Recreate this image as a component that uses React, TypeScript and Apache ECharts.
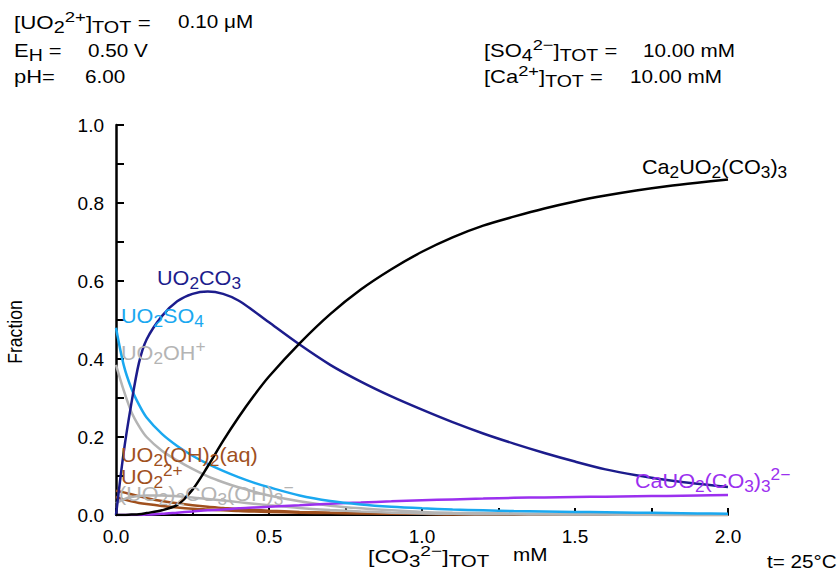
import React, { useEffect, useRef } from "react";
import * as echarts from "echarts";

// [CO3 2-]TOT in mM
const carbonate = [0, 0.025, 0.05, 0.075, 0.1, 0.15, 0.2, 0.25, 0.3, 0.35, 0.4, 0.45, 0.5, 0.6, 0.7, 0.8, 0.9, 1.0, 1.1, 1.2, 1.3, 1.4, 1.5, 1.6, 1.7, 1.8, 1.9, 2.0];

const uo2co3 = [0, 0.16, 0.285, 0.39, 0.45, 0.51, 0.548, 0.567, 0.573, 0.567, 0.55, 0.523, 0.494, 0.437, 0.385, 0.342, 0.304, 0.27, 0.238, 0.209, 0.183, 0.159, 0.137, 0.117, 0.102, 0.09, 0.08, 0.072];
const ca2uo2co33 = [0, 0, 0.001, 0.002, 0.005, 0.012, 0.026, 0.065, 0.125, 0.19, 0.25, 0.305, 0.355, 0.44, 0.515, 0.578, 0.63, 0.675, 0.712, 0.742, 0.765, 0.786, 0.804, 0.819, 0.832, 0.843, 0.852, 0.86];
const uo2so4 = [0.48, 0.385, 0.325, 0.283, 0.25, 0.208, 0.177, 0.152, 0.131, 0.113, 0.097, 0.083, 0.071, 0.05, 0.036, 0.027, 0.021, 0.017, 0.014, 0.012, 0.01, 0.009, 0.008, 0.007, 0.006, 0.005, 0.004, 0.003];
const uo2oh = [0.385, 0.32, 0.265, 0.228, 0.2, 0.165, 0.14, 0.118, 0.099, 0.084, 0.071, 0.06, 0.05, 0.035, 0.024, 0.017, 0.012, 0.008, 0.006, 0.005, 0.004, 0.003, 0.002, 0.002, 0.001, 0.001, 0.001, 0.001];
const uo2oh2 = [0.062, 0.058, 0.053, 0.048, 0.043, 0.036, 0.03, 0.025, 0.021, 0.018, 0.015, 0.013, 0.011, 0.008, 0.006, 0.005, 0.004, 0.003, 0.002, 0.002, 0.002, 0.001, 0.001, 0.001, 0.001, 0, 0, 0];
const uo2ion = [0.046, 0.04, 0.035, 0.031, 0.028, 0.023, 0.019, 0.016, 0.014, 0.012, 0.01, 0.009, 0.008, 0.006, 0.005, 0.004, 0.003, 0.003, 0.002, 0.002, 0.002, 0.001, 0.001, 0.001, 0.001, 0.001, 0, 0];
const uo22co3oh3 = [0.03, 0.04, 0.046, 0.049, 0.05, 0.05, 0.048, 0.045, 0.041, 0.037, 0.033, 0.029, 0.025, 0.018, 0.013, 0.009, 0.006, 0.004, 0.003, 0.002, 0.002, 0.001, 0.001, 0.001, 0, 0, 0, 0];
const cauo2co33 = [0, 0, 0, 0, 0.001, 0.003, 0.006, 0.009, 0.012, 0.014, 0.017, 0.019, 0.021, 0.025, 0.029, 0.032, 0.035, 0.038, 0.04, 0.042, 0.044, 0.045, 0.046, 0.047, 0.048, 0.049, 0.05, 0.051];

const FONT = "'Liberation Sans', Arial, sans-serif";

const C_NAVY = "#1c1c8c";
const C_CYAN = "#1aa8f0";
const C_GRAY = "#b4b4b4";
const C_BROWN = "#a0501e";
const C_PURPLE = "#9b30ef";
const C_BLACK = "#000000";

const labelRich = {
  s: { fontSize: 16, lineHeight: 16, verticalAlign: "bottom", fontFamily: FONT },
  p: { fontSize: 16, lineHeight: 16, verticalAlign: "top", fontFamily: FONT },
};

function richText(x: number, y: number, text: string, fill: string, size = 20, scaleX = 1.08) {
  return {
    type: "text",
    x,
    y,
    scaleX,
    z: 100,
    style: {
      text,
      x: 0,
      y: 0,
      fill,
      fontSize: size,
      lineHeight: 28,
      fontFamily: FONT,
      textAlign: "left",
      verticalAlign: "middle",
      rich: labelRich,
    },
  };
}

const headRich = {
  s: { fontSize: 16, lineHeight: 14, verticalAlign: "bottom", fontFamily: FONT },
  p: { fontSize: 15, lineHeight: 14, verticalAlign: "top", fontFamily: FONT },
};

function headText(x: number, y: number, text: string, scaleX = 1.15, size = 18) {
  return {
    type: "text",
    x,
    y,
    scaleX,
    z: 100,
    style: {
      text,
      x: 0,
      y: 0,
      fill: "#000",
      fontSize: size,
      lineHeight: 26,
      fontFamily: FONT,
      textAlign: "left",
      verticalAlign: "middle",
      rich: headRich,
    },
  };
}

function pairs(ys: number[]) {
  return carbonate.map((x, i) => [x, ys[i]]);
}

function line(name: string, ys: number[], color: string, z: number) {
  return {
    name,
    type: "line",
    data: pairs(ys),
    showSymbol: false,
    smooth: 0.3,
    z,
    lineStyle: { color, width: 2.5 },
    itemStyle: { color },
  };
}

export default function App() {
  const ref = useRef<HTMLDivElement>(null);
  useEffect(() => {
    if (!ref.current) return;
    const chart = echarts.init(ref.current, null, { renderer: "svg" });
    chart.setOption({
      animation: false,
      backgroundColor: "#ffffff",
      grid: { left: 116, right: 112, top: 125, bottom: 56, containLabel: false, outerBoundsMode: "none" },
      xAxis: {
        type: "value",
        min: 0,
        max: 2,
        interval: 0.5,
        axisLine: { show: true, lineStyle: { color: "#000", width: 2 } },
        axisTick: { show: true, inside: true, length: 7, lineStyle: { color: "#000", width: 2 } },
        minorTick: { show: true, splitNumber: 2, length: 7, lineStyle: { color: "#000", width: 2 } },
        axisLabel: {
          color: "#000",
          fontSize: 19,
          fontFamily: FONT,
          margin: 12,
          formatter: (v: number) => v.toFixed(1),
        },
        splitLine: { show: false },
      },
      yAxis: {
        type: "value",
        min: 0,
        max: 1,
        interval: 0.2,
        axisLine: { show: true, lineStyle: { color: "#000", width: 2.5 } },
        axisTick: { show: true, inside: true, length: 8, lineStyle: { color: "#000", width: 2 } },
        minorTick: { show: true, splitNumber: 2, length: 8, lineStyle: { color: "#000", width: 2 } },
        axisLabel: {
          color: "#000",
          fontSize: 19,
          fontFamily: FONT,
          margin: 12,
          formatter: (v: number) => v.toFixed(1),
        },
        splitLine: { show: false },
      },
      series: [
        line("UO2(OH)2(aq)", uo2oh2, C_BROWN, 2),
        line("UO2 2+", uo2ion, C_BROWN, 2),
        line("(UO2)2CO3(OH)3-", uo22co3oh3, C_GRAY, 2),
        line("UO2OH+", uo2oh, C_GRAY, 3),
        line("CaUO2(CO3)3 2-", cauo2co33, C_PURPLE, 3),
        line("UO2SO4", uo2so4, C_CYAN, 4),
        line("UO2CO3", uo2co3, C_NAVY, 5),
        line("Ca2UO2(CO3)3", ca2uo2co33, C_BLACK, 6),
      ],
      graphic: [
        // header
        headText(14, 23, "[UO{s|2}{p|2+}]{s|TOT} =", 1.24),
        headText(178, 22, "0.10 μM"),
        headText(14, 51, "E{s|H} =", 1.22),
        headText(88, 51, "0.50 V"),
        headText(14, 77, "pH=", 1.22),
        headText(85, 77, "6.00"),
        headText(484, 51, "[SO{s|4}{p|2−}]{s|TOT} =", 1.22),
        headText(643, 51, "10.00 mM"),
        headText(484, 77, "[Ca{p|2+}]{s|TOT} =", 1.22),
        headText(630, 77, "10.00 mM"),
        // y axis title
        {
          type: "text",
          x: 15,
          y: 332,
          rotation: Math.PI / 2,
          scaleX: 0.88,
          style: {
            text: "Fraction",
            x: 0,
            y: 0,
            fill: "#000",
            fontSize: 20,
            fontFamily: FONT,
            textAlign: "center",
            verticalAlign: "middle",
          },
        },
        // species labels
        richText(157, 278, "UO{s|2}CO{s|3}", C_NAVY),
        richText(121, 316, "UO{s|2}SO{s|4}", C_CYAN),
        richText(121, 353, "UO{s|2}OH{p|+}", C_GRAY),
        richText(121, 455, "UO{s|2}(OH){s|2}(aq)", C_BROWN),
        richText(121, 477, "UO{s|2}{p|2+}", C_BROWN),
        richText(119, 494, "(UO{s|2}){s|2}CO{s|3}(OH){s|3}{p|−}", C_GRAY),
        richText(642, 167, "Ca{s|2}UO{s|2}(CO{s|3}){s|3}", C_BLACK),
        richText(635, 481, "CaUO{s|2}(CO{s|3}){s|3}{p|2−}", C_PURPLE),
        // x axis title and temperature
        headText(368, 556, "[CO{s|3}{p|2−}]{s|TOT}", 1.28),
        headText(513, 555, "mM"),
        headText(767, 562, "t= 25°C"),
      ],
    });
    return () => chart.dispose();
  }, []);
  return (
    <div
      ref={ref}
      style={{ position: "absolute", left: 0, top: 0, width: 840, height: 571, background: "#fff" }}
    />
  );
}
